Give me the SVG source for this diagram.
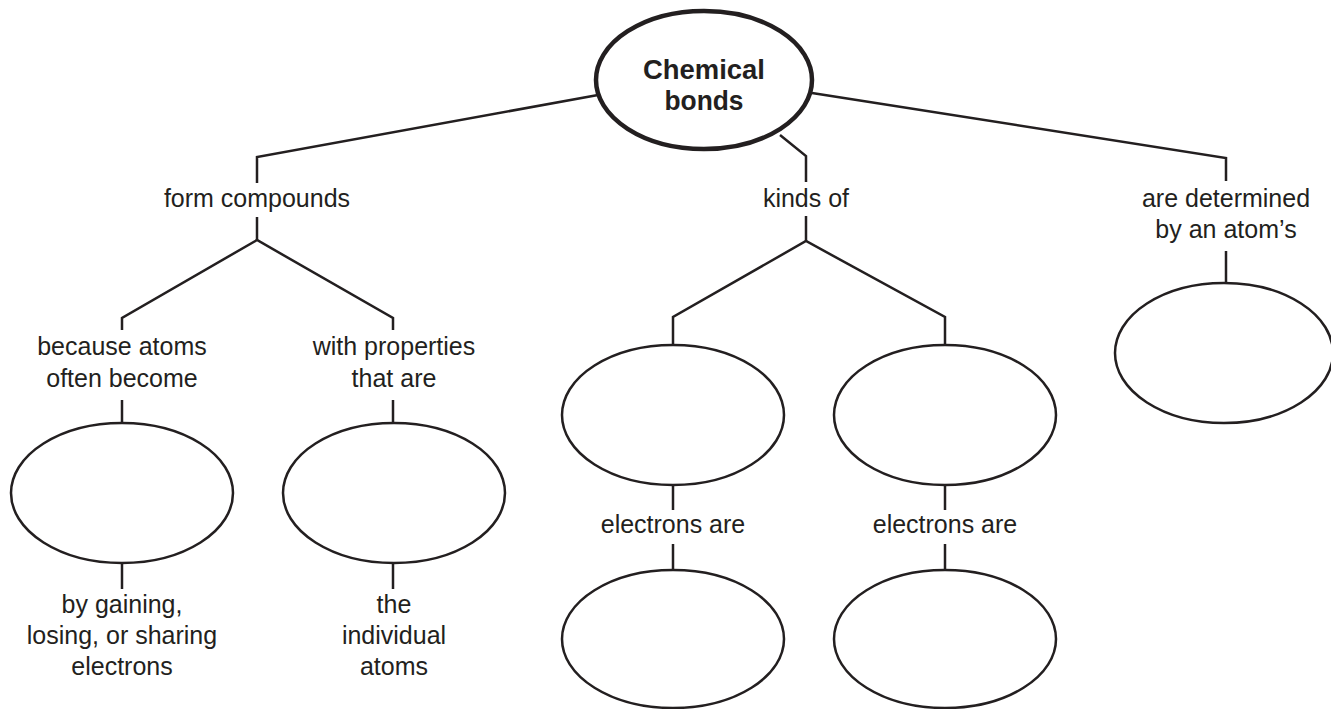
<svg xmlns="http://www.w3.org/2000/svg" width="1331" height="709" viewBox="0 0 1331 709">
<style>
.bg{fill:#ffffff}
.conn{fill:none;stroke:#231f20;stroke-width:2.5;stroke-linejoin:miter}
.node{fill:#ffffff;stroke:#231f20;stroke-width:2.5}
.main{fill:#ffffff;stroke:#231f20;stroke-width:4.5}
.lbl{font-family:"Liberation Sans",Arial,sans-serif;font-size:25px;fill:#231f20;text-anchor:middle}
.ttl{font-family:"Liberation Sans",Arial,sans-serif;font-size:27px;font-weight:bold;fill:#231f20;text-anchor:middle}
</style>
<rect class="bg" x="0" y="0" width="1331" height="709"/>
<g id="connectors">
<polyline class="conn" points="598,95 257,157 257,183"/>
<polyline class="conn" points="257,217 257,240"/>
<polyline class="conn" points="122,330 122,318 257,240 393,318 393,330"/>
<polyline class="conn" points="122,400 122,424"/>
<polyline class="conn" points="393,400 393,424"/>
<polyline class="conn" points="122,562 122,589"/>
<polyline class="conn" points="393,562 393,589"/>
<polyline class="conn" points="780,135 806,156 806,182"/>
<polyline class="conn" points="806,216 806,241"/>
<polyline class="conn" points="673,345 673,317 806,241 945,317 945,345"/>
<polyline class="conn" points="673,484 673,510"/>
<polyline class="conn" points="945,484 945,510"/>
<polyline class="conn" points="673,544 673,570"/>
<polyline class="conn" points="945,544 945,570"/>
<polyline class="conn" points="812,93 1226,158 1226,181"/>
<polyline class="conn" points="1226,251 1226,283"/>
</g>
<g id="n-chemical-bonds">
<ellipse class="main" cx="704" cy="80" rx="108" ry="69"/>
<text class="ttl" x="704" y="79" textLength="122" lengthAdjust="spacingAndGlyphs">Chemical</text>
<text class="ttl" x="704" y="110" textLength="79" lengthAdjust="spacingAndGlyphs">bonds</text>
</g>
<g id="l-form-compounds"><text class="lbl" x="257" y="207">form compounds</text></g>
<g id="l-because"><text class="lbl" x="122" y="355">because atoms</text><text class="lbl" x="122" y="387">often become</text></g>
<g id="l-with-properties"><text class="lbl" x="394" y="355">with properties</text><text class="lbl" x="394" y="387">that are</text></g>
<g id="n-blank-1"><ellipse class="node" cx="122" cy="493" rx="111" ry="70"/></g>
<g id="n-blank-2"><ellipse class="node" cx="394" cy="493" rx="111" ry="70"/></g>
<g id="l-by-gaining"><text class="lbl" x="122" y="613">by gaining,</text><text class="lbl" x="122" y="644">losing, or sharing</text><text class="lbl" x="122" y="675">electrons</text></g>
<g id="l-the-individual"><text class="lbl" x="394" y="613">the</text><text class="lbl" x="394" y="644">individual</text><text class="lbl" x="394" y="675">atoms</text></g>
<g id="l-kinds-of"><text class="lbl" x="806" y="207">kinds of</text></g>
<g id="n-blank-3"><ellipse class="node" cx="673" cy="415" rx="111" ry="70"/></g>
<g id="n-blank-4"><ellipse class="node" cx="945" cy="415" rx="111" ry="70"/></g>
<g id="l-electrons-are-1"><text class="lbl" x="673" y="533">electrons are</text></g>
<g id="l-electrons-are-2"><text class="lbl" x="945" y="533">electrons are</text></g>
<g id="n-blank-5"><ellipse class="node" cx="673" cy="639" rx="111" ry="69"/></g>
<g id="n-blank-6"><ellipse class="node" cx="945" cy="639" rx="111" ry="69"/></g>
<g id="l-determined"><text class="lbl" x="1226" y="207">are determined</text><text class="lbl" x="1226" y="238">by an atom’s</text></g>
<g id="n-blank-7"><ellipse class="node" cx="1224" cy="353" rx="109" ry="70"/></g>
</svg>
